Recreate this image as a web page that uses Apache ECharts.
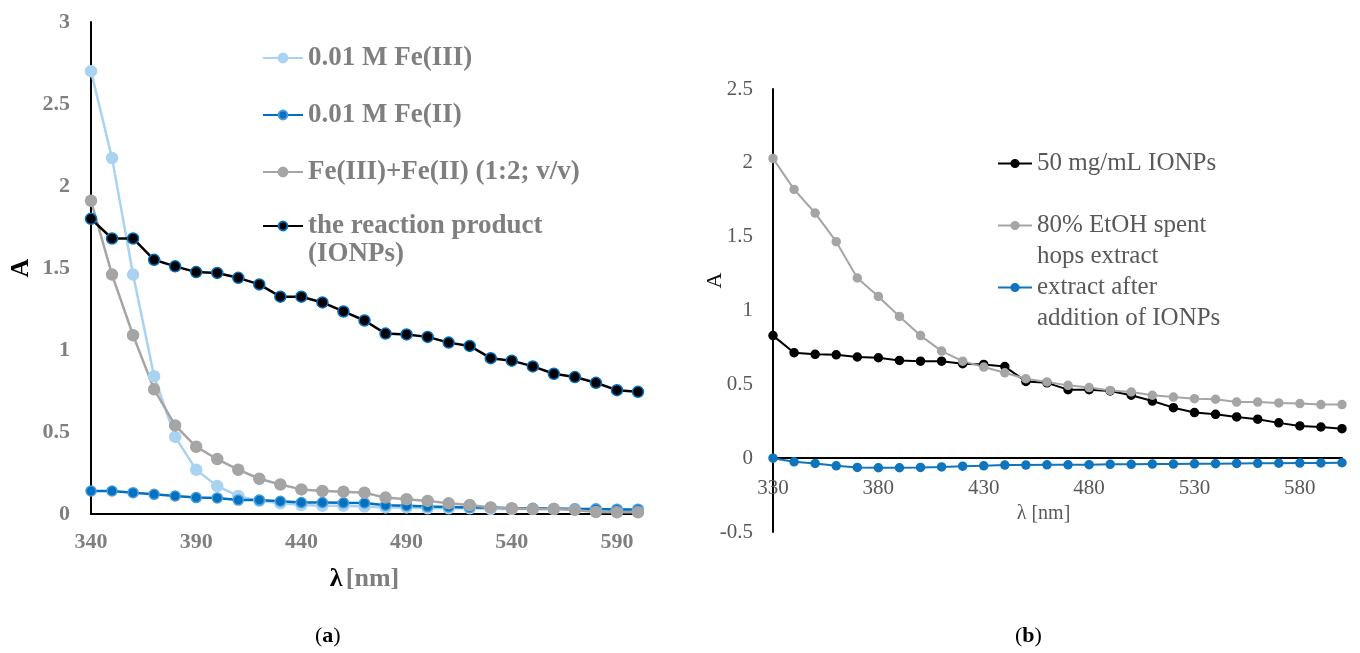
<!DOCTYPE html>
<html>
<head>
<meta charset="utf-8">
<script src="https://cdn.jsdelivr.net/npm/echarts@6/dist/echarts.min.js"></script>
<style>
  html, body { margin: 0; padding: 0; background: #fff; }
  #chart { width: 1360px; height: 653px; }
</style>
</head>
<body>
<div id="chart"></div>
<script>
// (a) UV-Vis spectra of iron salts and the reaction product, 340–600 nm
const waveA = ['340','350','360','370','380','390','400','410','420','430','440','450','460','470',
  '480','490','500','510','520','530','540','550','560','570','580','590','600'];
const feIII = [2.70, 2.17, 1.46, 0.84, 0.47, 0.27, 0.17, 0.11, 0.08, 0.065, 0.055, 0.05, 0.05, 0.045,
  0.04, 0.04, 0.035, 0.035, 0.035, 0.03, 0.03, 0.03, 0.03, 0.03, 0.03, 0.028, 0.028];
const feII = [0.14, 0.14, 0.13, 0.12, 0.11, 0.10, 0.098, 0.085, 0.085, 0.078, 0.07, 0.07, 0.068, 0.067,
  0.053, 0.05, 0.045, 0.043, 0.04, 0.04, 0.035, 0.035, 0.033, 0.03, 0.03, 0.028, 0.028];
const feMix = [1.91, 1.46, 1.09, 0.76, 0.54, 0.41, 0.335, 0.27, 0.215, 0.18, 0.15, 0.14, 0.136, 0.13,
  0.10, 0.09, 0.08, 0.065, 0.055, 0.04, 0.035, 0.03, 0.03, 0.025, 0.012, 0.01, 0.01];
const product = [1.80, 1.68, 1.68, 1.55, 1.51, 1.475, 1.47, 1.44, 1.40, 1.325, 1.325, 1.29, 1.235, 1.18,
  1.10, 1.095, 1.08, 1.045, 1.025, 0.95, 0.935, 0.90, 0.855, 0.835, 0.80, 0.755, 0.745];

// (b) spent hops extract before and after contact with IONPs, 330–600 nm
const waveB = ['330','340','350','360','370','380','390','400','410','420','430','440','450','460',
  '470','480','490','500','510','520','530','540','550','560','570','580','590','600'];
const ionps = [0.83, 0.714, 0.703, 0.70, 0.685, 0.68, 0.662, 0.657, 0.657, 0.64, 0.635, 0.62, 0.52, 0.51,
  0.464, 0.464, 0.455, 0.426, 0.387, 0.342, 0.309, 0.297, 0.279, 0.264, 0.239, 0.218, 0.211, 0.20];
const hopsExtract = [2.03, 1.82, 1.66, 1.466, 1.22, 1.095, 0.96, 0.83, 0.725, 0.657, 0.617, 0.578, 0.538, 0.516,
  0.493, 0.478, 0.459, 0.448, 0.426, 0.414, 0.403, 0.399, 0.38, 0.38, 0.374, 0.37, 0.363, 0.363];
const afterIonps = [0.0, -0.025, -0.036, -0.052, -0.063, -0.065, -0.065, -0.063, -0.059, -0.054, -0.052, -0.047, -0.047, -0.045,
  -0.045, -0.044, -0.042, -0.042, -0.04, -0.04, -0.038, -0.037, -0.036, -0.035, -0.034, -0.033, -0.032, -0.031];

// Axis ticks
const ticksA = { min: 0, max: 3, interval: 0.5 };
const ticksB = { min: -0.5, max: 2.5, interval: 0.5 };

// Series names and the text shown for them in the legends.
// Two-line entries start with an empty line so the first text line sits beside the icon.
const NAME_FE3 = '0.01 M Fe(III)';
const NAME_FE2 = '0.01 M Fe(II)';
const NAME_MIX = 'Fe(III)+Fe(II) (1:2; v/v)';
const NAME_PROD = 'the reaction product (IONPs)';
const NAME_IONPS = '50 mg/mL IONPs';
const NAME_HOPS = '80% EtOH spent hops extract';
const NAME_AFTER = 'extract after addition of IONPs';
const legendText = {
  [NAME_PROD]: ' \nthe reaction product\n(IONPs)',
  [NAME_HOPS]: ' \n80% EtOH spent\nhops extract',
  [NAME_AFTER]: ' \nextract after\naddition of IONPs'
};
const fmt = n => legendText[n] || n;

const SERIF = '"Liberation Serif", "Times New Roman", serif';
const GRAY_A = '#7f7f7f';
const GRAY_B = '#595959';

// Plot areas
const gridA = { left: 91, top: 22, width: 547, height: 492 };
const gridB = { left: 773, top: 89, width: 569, height: 443 };
// The (b) wavelength axis runs along A = 0, so lift it from the grid bottom to that level
const zeroLiftB = (0 - ticksB.min) / (ticksB.max - ticksB.min) * gridB.height;

const chart = echarts.init(document.getElementById('chart'), null, { renderer: 'canvas' });

const legendA = { fontFamily: SERIF, fontWeight: 'bold', fontSize: 27, color: GRAY_A, lineHeight: 28 };
const legendB = { fontFamily: SERIF, fontSize: 25, color: GRAY_B, lineHeight: 31 };

const lineSeries = (name, data, idx, color, border, size, width) => ({
  name, type: 'line', data, xAxisIndex: idx, yAxisIndex: idx,
  symbol: 'circle', symbolSize: size, showSymbol: true,
  lineStyle: { color, width },
  itemStyle: { color, borderColor: border, borderWidth: 1.5 },
  emphasis: { disabled: true },
  animation: false
});

const captionRich = {
  p: { fontFamily: SERIF, fontSize: 22, fill: '#000' },
  b: { fontFamily: SERIF, fontSize: 22, fontWeight: 'bold', fill: '#000' }
};

chart.setOption({
  backgroundColor: '#ffffff',
  animation: false,
  grid: [gridA, gridB],
  xAxis: [
    {
      gridIndex: 0, type: 'category', data: waveA, boundaryGap: false,
      axisLine: { lineStyle: { color: '#000', width: 2 } },
      axisTick: { show: false },
      splitLine: { show: false },
      axisLabel: { interval: 4, margin: 17, color: GRAY_A, fontFamily: SERIF, fontWeight: 'bold', fontSize: 22 },
      name: '{l|λ} {n|[nm]}', nameLocation: 'middle', nameGap: 52,
      nameTextStyle: {
        rich: {
          l: { fontFamily: SERIF, fontWeight: 'bold', fontSize: 26, color: '#000' },
          n: { fontFamily: SERIF, fontWeight: 'bold', fontSize: 26, color: GRAY_A }
        }
      }
    },
    {
      gridIndex: 1, type: 'category', data: waveB, boundaryGap: false,
      offset: -zeroLiftB,
      axisLine: { onZero: false, lineStyle: { color: '#000', width: 2 } },
      axisTick: { show: false },
      splitLine: { show: false },
      axisLabel: { interval: 4, margin: 20, color: GRAY_B, fontFamily: SERIF, fontSize: 21 },
      name: 'λ [nm]', nameLocation: 'middle', nameGap: 43,
      nameTextStyle: { fontFamily: SERIF, fontSize: 20, color: GRAY_B, padding: [0, 28, 0, 0] }
    }
  ],
  yAxis: [
    {
      gridIndex: 0, type: 'value', min: ticksA.min, max: ticksA.max, interval: ticksA.interval,
      axisLine: { show: true, lineStyle: { color: '#000', width: 2 } },
      axisTick: { show: false },
      splitLine: { show: false },
      axisLabel: { margin: 21, color: GRAY_A, fontFamily: SERIF, fontWeight: 'bold', fontSize: 22 },
      name: 'A', nameLocation: 'middle', nameGap: 57, nameRotate: 90,
      nameTextStyle: { fontFamily: SERIF, fontWeight: 'bold', fontSize: 26, color: '#000' }
    },
    {
      gridIndex: 1, type: 'value', min: ticksB.min, max: ticksB.max, interval: ticksB.interval,
      axisLine: { show: true, onZero: false, lineStyle: { color: '#000', width: 2 } },
      axisTick: { show: false },
      splitLine: { show: false },
      axisLabel: { margin: 20, color: GRAY_B, fontFamily: SERIF, fontSize: 21 },
      name: 'A', nameLocation: 'middle', nameGap: 47, nameRotate: 90, nameMoveOverlap: false,
      nameTextStyle: { fontFamily: SERIF, fontSize: 22, color: '#111', padding: [0, 0, 0, 60] }
    }
  ],
  legend: [
    {
      data: [NAME_FE3, NAME_FE2, NAME_MIX], orient: 'vertical', left: 262, top: 44,
      itemWidth: 40, itemHeight: 11, itemGap: 29, padding: 0, selectedMode: false,
      formatter: fmt, textStyle: legendA
    },
    {
      data: [NAME_PROD], orient: 'vertical', left: 262, top: 184,
      itemWidth: 40, itemHeight: 11, padding: 0, selectedMode: false,
      formatter: fmt, textStyle: legendA
    },
    {
      data: [NAME_IONPS], orient: 'vertical', left: 997, top: 148,
      itemWidth: 34, itemHeight: 9, padding: 0, selectedMode: false,
      formatter: fmt, textStyle: legendB
    },
    {
      data: [NAME_HOPS], orient: 'vertical', left: 997, top: 179,
      itemWidth: 34, itemHeight: 9, padding: 0, selectedMode: false,
      formatter: fmt, textStyle: legendB
    },
    {
      data: [NAME_AFTER], orient: 'vertical', left: 997, top: 241,
      itemWidth: 34, itemHeight: 9, padding: 0, selectedMode: false,
      formatter: fmt, textStyle: legendB
    }
  ],
  series: [
    lineSeries(NAME_FE3, feIII, 0, '#a9d3f0', '#a9d3f0', 11, 2.5),
    lineSeries(NAME_FE2, feII, 0, '#0070c0', '#4a9ad8', 10, 2.5),
    lineSeries(NAME_MIX, feMix, 0, '#a5a5a5', '#a5a5a5', 11, 2.5),
    lineSeries(NAME_PROD, product, 0, '#000000', '#0070c0', 11, 2.5),
    lineSeries(NAME_IONPS, ionps, 1, '#000000', '#000000', 8, 2),
    lineSeries(NAME_HOPS, hopsExtract, 1, '#a5a5a5', '#a5a5a5', 8, 2),
    lineSeries(NAME_AFTER, afterIonps, 1, '#0f75bd', '#0f75bd', 8, 2)
  ],
  graphic: [
    {
      type: 'text', left: 315, top: 625,
      style: { text: '{p|(}{b|a}{p|)}', rich: captionRich }
    },
    {
      type: 'text', left: 1015, top: 625,
      style: { text: '{p|(}{b|b}{p|)}', rich: captionRich }
    }
  ]
});
</script>
</body>
</html>
